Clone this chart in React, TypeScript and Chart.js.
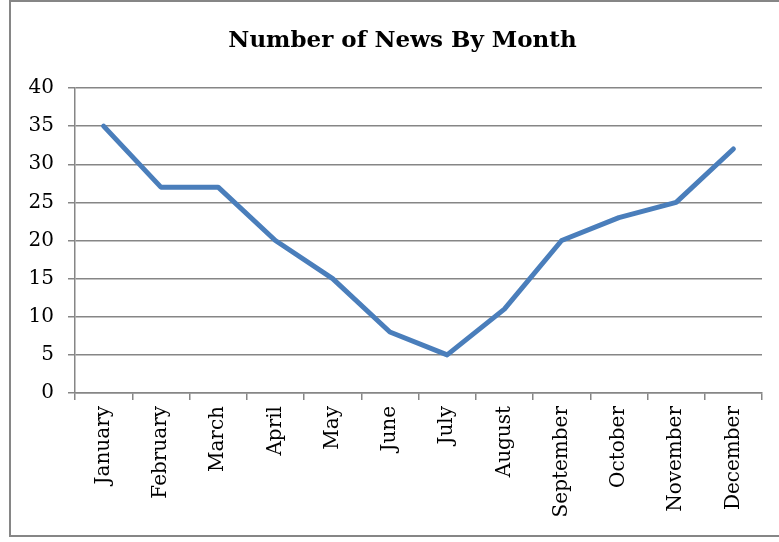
import React, { useEffect, useRef } from "react";
import { Chart, registerables } from "chart.js";

Chart.register(...registerables);

const months = [
  "January", "February", "March", "April", "May", "June",
  "July", "August", "September", "October", "November", "December",
];
const newsCounts = [35, 27, 27, 20, 15, 8, 5, 11, 20, 23, 25, 32];
const chartTitle = "Number of News By Month";
const yMin = 0;
const yMax = 40;
const yStep = 5;

const FONT = "'DejaVu Serif', serif";

const frameAndTitlePlugin = {
  id: "frameAndTitle",
  beforeDraw(chart: any) {
    const ctx = chart.ctx;
    ctx.save();
    ctx.fillStyle = "#ffffff";
    ctx.fillRect(0, 0, chart.width, chart.height);
    ctx.strokeStyle = "#868686";
    ctx.lineWidth = 2;
    ctx.strokeRect(10, 1, 785, 535);
    ctx.restore();
  },
  afterDraw(chart: any) {
    const ctx = chart.ctx;
    ctx.save();
    ctx.fillStyle = "#000000";
    ctx.font = `bold 23px ${FONT}`;
    ctx.textAlign = "center";
    ctx.textBaseline = "middle";
    ctx.fillText(chartTitle, (10 + 795) / 2, 41);
    ctx.restore();
  },
};

export default function App() {
  const ref = useRef<HTMLCanvasElement | null>(null);

  useEffect(() => {
    if (!ref.current) return;
    const chart = new Chart(ref.current, {
      type: "line",
      data: {
        labels: months,
        datasets: [
          {
            data: newsCounts,
            borderColor: "#4A7EBB",
            backgroundColor: "#4A7EBB",
            borderWidth: 5,
            pointRadius: 0,
            pointHoverRadius: 0,
            tension: 0,
            borderCapStyle: "round",
            borderJoinStyle: "round",
          },
        ],
      },
      options: {
        responsive: false,
        animation: false,
        layout: { padding: { left: 12, right: 17, top: 88, bottom: 0 } },
        plugins: {
          legend: { display: false },
          tooltip: { enabled: false },
          title: { display: false },
        },
        scales: {
          x: {
            type: "category",
            offset: true,
            afterFit(scale: any) {
              scale.height = 149;
            },
            grid: {
              offset: true,
              drawOnChartArea: false,
              drawTicks: true,
              tickLength: 7,
              color: "#868686",
              lineWidth: 1.5,
            },
            border: { display: true, color: "#868686", width: 1.5 },
            ticks: {
              color: "#000000",
              font: { family: FONT, size: 20 },
              maxRotation: 90,
              minRotation: 90,
              padding: 6,
              autoSkip: false,
            },
          },
          y: {
            min: yMin,
            max: yMax,
            afterFit(scale: any) {
              scale.width = 63;
            },
            grid: {
              color: "#868686",
              lineWidth: 1.5,
              drawTicks: true,
              tickLength: 7,
            },
            border: { display: true, color: "#868686", width: 1.5 },
            ticks: {
              stepSize: yStep,
              color: "#000000",
              font: { family: FONT, size: 20 },
              padding: 14,
            },
          },
        },
      },
      plugins: [frameAndTitlePlugin],
    });
    return () => chart.destroy();
  }, []);

  return (
    <canvas
      ref={ref}
      width={779}
      height={542}
      style={{ position: "fixed", left: 0, top: 0, width: 779, height: 542 }}
    />
  );
}
